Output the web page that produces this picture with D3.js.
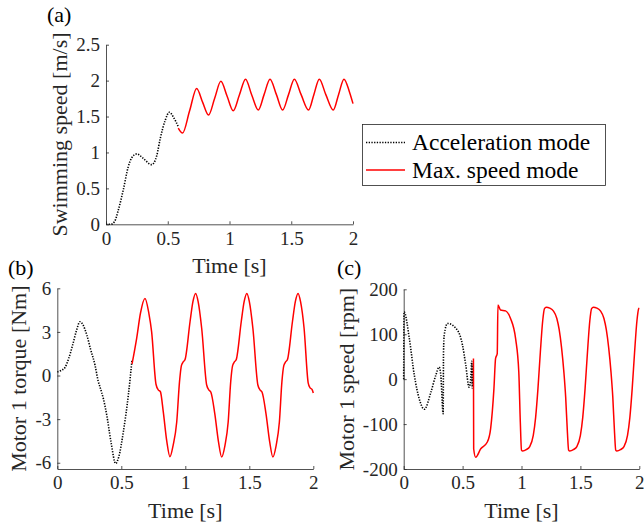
<!DOCTYPE html>
<html>
<script src="https://d3js.org/d3.v7.min.js"></script>
<style>
  body { margin: 0; background: #fff; }
</style>
<body>
<div id="chart"></div>

<script>
    // ---- data ----
    var timeTicks = [0, 0.5, 1, 1.5, 2];
    var speedTicks = [0, 0.5, 1, 1.5, 2, 2.5];
    var torqueTicks = [-6, -3, 0, 3, 6];
    var rpmTicks = [-200, -100, 0, 100, 200];

    // (a) swimming speed [m/s]
    var speedAccT = [0, 0.04, 0.07, 0.1, 0.14, 0.18, 0.21, 0.25, 0.3, 0.37, 0.41, 0.44, 0.48, 0.513, 0.55, 0.585];
    var speedAccV = [0, 0, 0.04, 0.2, 0.48, 0.8, 0.93, 0.98, 0.92, 0.83, 0.95, 1.2, 1.45, 1.56, 1.48, 1.36];
    var speedMaxT = [0.585, 0.62, 0.677, 0.734, 0.782, 0.83, 0.88, 0.93, 0.98, 1.03, 1.08, 1.13, 1.18, 1.233, 1.28, 1.328,
                     1.38, 1.43, 1.478, 1.525, 1.58, 1.64, 1.683, 1.727, 1.78, 1.84, 1.883, 1.927, 1.97, 2.0];
    var speedMaxV = [1.34, 1.27, 1.58, 1.89, 1.70, 1.52, 1.755, 1.99, 1.785, 1.58, 1.80, 2.02, 1.80, 1.59, 1.805, 2.02,
                     1.805, 1.59, 1.805, 2.02, 1.805, 1.59, 1.805, 2.02, 1.805, 1.59, 1.805, 2.02, 1.85, 1.68];

    // (b) motor 1 torque [Nm]
    var torqueAccT = [0, 0.03, 0.06, 0.09, 0.12, 0.15, 0.177, 0.2, 0.23, 0.26, 0.295, 0.32, 0.334, 0.36, 0.386, 0.42, 0.456, 0.48, 0.516, 0.555, 0.584];
    var torqueAccV = [0.25, 0.35, 0.55, 1.2, 2.1, 3.1, 3.7, 3.5, 2.8, 1.8, 0.7, -0.4, -0.8, -1.6, -2.7, -4.6, -6.05, -5.6, -3.87, -1.34, 1.1];
    var torqueMaxT = [0.584, 0.62, 0.65, 0.685, 0.715, 0.737, 0.771, 0.79, 0.805, 0.828, 0.855, 0.88, 0.905, 0.933, 0.955, 0.97, 0.985, 0.998,
                      1.037, 1.06, 1.081, 1.10, 1.128, 1.167, 1.185, 1.2, 1.23, 1.26, 1.284, 1.31, 1.335, 1.355, 1.37, 1.385, 1.398,
                      1.437, 1.46, 1.481, 1.50, 1.528, 1.567, 1.585, 1.6, 1.63, 1.66, 1.684, 1.71, 1.735, 1.755, 1.77, 1.785, 1.798,
                      1.837, 1.86, 1.881, 1.90, 1.928, 1.96, 1.975, 1.99, 2.0];
    var torqueMaxV = [0.8, 2.56, 4.3, 5.3, 4.3, 3.0, -0.6, -1.0, -1.1, -2.5, -4.5, -5.58, -4.8, -3.2, -0.4, 0.7, 0.95, 1.1,
                      3.7, 5.1, 5.65, 5.1, 3.25, -0.65, -1.0, -1.15, -2.6, -4.6, -5.6, -4.8, -3.2, -0.4, 0.7, 0.95, 1.1,
                      3.7, 5.1, 5.65, 5.1, 3.25, -0.65, -1.0, -1.15, -2.6, -4.6, -5.6, -4.8, -3.2, -0.4, 0.7, 0.95, 1.1,
                      3.7, 5.1, 5.65, 5.1, 3.25, -0.5, -0.85, -0.95, -1.2];

    // (c) motor 1 speed [rpm]
    var rpmAccT = [0, 0.003, 0.048, 0.09, 0.132, 0.175, 0.231, 0.273, 0.301, 0.315, 0.335, 0.338, 0.344, 0.372, 0.456, 0.499, 0.527, 0.555, 0.569, 0.578, 0.582, 0.586];
    var rpmAccV = [0, 150, 90, 9, -44, -67, -29, 9, 27, 9, -77, 60, 98, 124, 109, 76, 31, -18, 1, 40, -20, 35];
    var rpmMaxT = [0.592, 0.594, 0.611, 0.654, 0.71, 0.738, 0.766, 0.78, 0.794, 0.8, 0.822, 0.865, 0.907, 0.95, 0.977, 0.99, 1.0,
                   1.01, 1.04, 1.07, 1.1, 1.12, 1.14, 1.16, 1.18, 1.195, 1.21, 1.24, 1.27, 1.3, 1.32, 1.34, 1.36, 1.375, 1.39, 1.4,
                   1.41, 1.44, 1.47, 1.5, 1.52, 1.54, 1.56, 1.58, 1.595, 1.61, 1.64, 1.67, 1.7, 1.72, 1.74, 1.76, 1.775, 1.79, 1.8,
                   1.81, 1.84, 1.87, 1.9, 1.92, 1.94, 1.96, 1.98, 1.995, 2.0];
    var rpmMaxV = [46, -155, -174, -155, -140, -110, -21, 46, 57, 165, 154, 152, 135, 90, 16, -96, -158,
                   -160, -157, -150, -125, -85, -20, 60, 130, 157, 160, 158, 152, 135, 110, 70, 15, -40, -120, -158,
                   -160, -157, -150, -125, -85, -20, 60, 130, 157, 160, 158, 152, 135, 110, 70, 15, -40, -120, -158,
                   -160, -157, -150, -125, -85, -20, 60, 130, 157, 158];

    var axisColor = "#262626";
    var serif = "'Liberation Serif', 'Times New Roman', Tinos, serif";

    var svg = d3.select("#chart")
        .append("svg")
        .attr("width", 644)
        .attr("height", 528)
        .style("font-family", serif);

    function zip(ts, vs) {
        return ts.map(function (t, i) { return [t, vs[i]]; });
    }

    function addText(sel, size) {
        return sel.append("text")
            .style("font-family", serif)
            .style("font-size", size + "px")
            .attr("fill", axisColor);
    }

    // draws one panel; box = pixel extents of the axes
    function panel(box, yDomain, yTicks, yFmt, yLabel, series) {
        var x = d3.scaleLinear().domain([0, 2]).range([box.x0, box.x1]);
        var y = d3.scaleLinear().domain(yDomain).range([box.y0, box.y1]);

        var line = d3.line()
            .x(function (d) { return x(d[0]); })
            .y(function (d) { return y(d[1]); })
            .curve(d3.curveMonotoneX);

        series.forEach(function (s) {
            svg.append("path")
                .datum(zip(s.t, s.v))
                .attr("d", line)
                .attr("fill", "none")
                .attr("stroke", s.color)
                .attr("stroke-width", s.width)
                .attr("stroke-dasharray", s.dash);
        });

        var gx = svg.append("g")
            .attr("transform", "translate(0," + box.y0 + ")")
            .call(d3.axisBottom(x).tickValues(timeTicks).tickFormat(d3.format("")).tickSizeInner(-3).tickSizeOuter(0).tickPadding(7));
        var gy = svg.append("g")
            .attr("transform", "translate(" + box.x0 + ",0)")
            .call(d3.axisLeft(y).tickValues(yTicks).tickFormat(yFmt).tickSizeInner(-3).tickSizeOuter(0).tickPadding(6));

        [gx, gy].forEach(function (g) {
            g.attr("font-family", null).attr("font-size", null);
            g.selectAll("path, line").attr("stroke", axisColor).attr("stroke-width", 0.8);
            g.selectAll("text")
                .attr("fill", axisColor)
                .style("font-family", serif)
                .style("font-size", "19px");
        });

        addText(svg, 22)
            .attr("x", (box.x0 + box.x1) / 2)
            .attr("y", box.y0 + 49)
            .attr("text-anchor", "middle")
            .text("Time [s]");

        addText(svg, 22)
            .attr("transform", "translate(" + box.labelX + "," + (box.y0 + box.y1) / 2 + ") rotate(-90)")
            .attr("text-anchor", "middle")
            .text(yLabel);

        addText(svg, 22)
            .attr("x", box.tagX)
            .attr("y", box.tagY)
            .attr("fill", "#000")
            .text(box.tag);
    }

    var accStyle = { color: "#000", width: 1.6, dash: "1.3 1.4" };
    var maxStyle = { color: "#ff0000", width: 1.5, dash: null };

    panel({ x0: 106, x1: 353, y0: 224.3, y1: 44.7, labelX: 67, tag: "(a)", tagX: 47, tagY: 22 },
        [0, 2.5], speedTicks, d3.format(""), "Swimming speed [m/s]",
        [Object.assign({ t: speedAccT, v: speedAccV }, accStyle), Object.assign({ t: speedMaxT, v: speedMaxV }, maxStyle)]);

    panel({ x0: 57.3, x1: 313.3, y0: 469, y1: 288.3, labelX: 26, tag: "(b)", tagX: 8, tagY: 275 },
        [-6.43, 6], torqueTicks, function (d) { return d < 0 ? "-" + (-d) : d; }, "Motor 1 torque [Nm]",
        [Object.assign({ t: torqueAccT, v: torqueAccV }, accStyle), Object.assign({ t: torqueMaxT, v: torqueMaxV }, maxStyle)]);

    panel({ x0: 403.7, x1: 639.3, y0: 469, y1: 289.3, labelX: 354, tag: "(c)", tagX: 337, tagY: 275 },
        [-200, 200], rpmTicks, function (d) { return d < 0 ? "-" + (-d) : d; }, "Motor 1 speed [rpm]",
        [Object.assign({ t: rpmAccT, v: rpmAccV }, accStyle), Object.assign({ t: rpmMaxT, v: rpmMaxV }, maxStyle)]);

    // legend
    var legend = svg.append("g");
    legend.append("rect")
        .attr("x", 362.5).attr("y", 124.5)
        .attr("width", 243).attr("height", 61)
        .attr("fill", "#fff")
        .attr("stroke", axisColor)
        .attr("stroke-width", 0.8);
    var legendItems = [
        { label: "Acceleration mode", style: accStyle, cy: 142.5 },
        { label: "Max. speed mode", style: maxStyle, cy: 170 }
    ];
    legendItems.forEach(function (it) {
        legend.append("line")
            .attr("x1", 366).attr("x2", 405)
            .attr("y1", it.cy).attr("y2", it.cy)
            .attr("stroke", it.style.color)
            .attr("stroke-width", it.style.width)
            .attr("stroke-dasharray", it.style.dash);
        addText(legend, 23.5)
            .attr("x", 412)
            .attr("y", it.cy + 7.5)
            .attr("fill", "#000")
            .text(it.label);
    });
</script>

</body>
</html>
